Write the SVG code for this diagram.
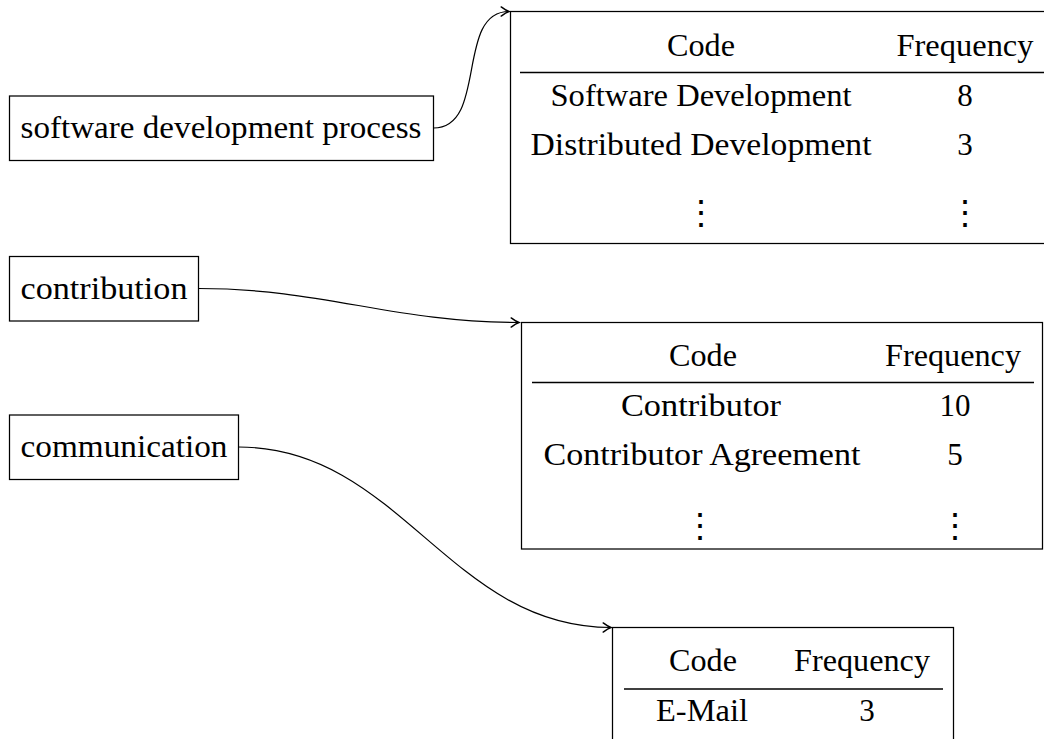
<svg xmlns="http://www.w3.org/2000/svg" width="1044" height="739" viewBox="0 0 1044 739">
<style>
  .box { fill: #fff; stroke: #000; stroke-width: 1.25; }
  .rule { stroke: #000; stroke-width: 1.5; }
  .t { font-family: "Liberation Serif", "DejaVu Serif", serif; font-size: 31px; fill: #000; text-anchor: middle; }
  .dots { font-family: "DejaVu Serif", serif; font-size: 34px; fill: #000; text-anchor: middle; }
  .edge { fill: none; stroke: #000; stroke-width: 1.2; }
</style>
<defs>
  <marker id="arr" markerUnits="userSpaceOnUse" markerWidth="12" markerHeight="12" viewBox="-8 -5 10 10" refX="0" refY="0" orient="auto">
    <path d="M-6.5,-3.8 Q-2.5,-0.8 0,0 Q-2.5,0.8 -6.5,3.8" fill="none" stroke="#000" stroke-width="1.2" stroke-linecap="round"/>
  </marker>
</defs>
<rect width="1044" height="739" fill="#fff"/>

<g id="node-sdp">
  <rect class="box" x="9.5" y="96" width="424" height="64.5"/>
  <text class="t" x="221" y="138" textLength="401" lengthAdjust="spacingAndGlyphs">software development process</text>
</g>
<g id="node-contribution">
  <rect class="box" x="9.5" y="256.5" width="189" height="64.5"/>
  <text class="t" x="104" y="298.5" textLength="167" lengthAdjust="spacingAndGlyphs">contribution</text>
</g>
<g id="node-communication">
  <rect class="box" x="9.5" y="415" width="229" height="64.5"/>
  <text class="t" x="124" y="457" textLength="207" lengthAdjust="spacingAndGlyphs">communication</text>
</g>

<g id="table-1">
  <rect class="box" x="510.5" y="11.5" width="560" height="232"/>
  <text class="t" x="701" y="56" textLength="68" lengthAdjust="spacingAndGlyphs">Code</text>
  <text class="t" x="965" y="56" textLength="137" lengthAdjust="spacingAndGlyphs">Frequency</text>
  <line class="rule" x1="520" y1="72.5" x2="1050" y2="72.5"/>
  <text class="t" x="701" y="106" textLength="301" lengthAdjust="spacingAndGlyphs">Software Development</text>
  <text class="t" x="965" y="106">8</text>
  <text class="t" x="701" y="155" textLength="341" lengthAdjust="spacingAndGlyphs">Distributed Development</text>
  <text class="t" x="965" y="155">3</text>
  <text class="dots" x="701" y="224">⋮</text>
  <text class="dots" x="965" y="224">⋮</text>
</g>

<g id="table-2">
  <rect class="box" x="521.5" y="322.5" width="521" height="226.5"/>
  <text class="t" x="703" y="366" textLength="68" lengthAdjust="spacingAndGlyphs">Code</text>
  <text class="t" x="953" y="366" textLength="136" lengthAdjust="spacingAndGlyphs">Frequency</text>
  <line class="rule" x1="532" y1="382.5" x2="1034" y2="382.5"/>
  <text class="t" x="701" y="416" textLength="160" lengthAdjust="spacingAndGlyphs">Contributor</text>
  <text class="t" x="955" y="416">10</text>
  <text class="t" x="702" y="465" textLength="317" lengthAdjust="spacingAndGlyphs">Contributor Agreement</text>
  <text class="t" x="955" y="465">5</text>
  <text class="dots" x="700" y="537">⋮</text>
  <text class="dots" x="955" y="537">⋮</text>
</g>

<g id="table-3">
  <rect class="box" x="612.5" y="627.5" width="341" height="130"/>
  <text class="t" x="703" y="671" textLength="68" lengthAdjust="spacingAndGlyphs">Code</text>
  <text class="t" x="862" y="671" textLength="136" lengthAdjust="spacingAndGlyphs">Frequency</text>
  <line class="rule" x1="624" y1="689" x2="943" y2="689"/>
  <text class="t" x="702" y="721" textLength="92" lengthAdjust="spacingAndGlyphs">E-Mail</text>
  <text class="t" x="867" y="721">3</text>
</g>

<g id="connectors">
  <path class="edge" d="M433.5,128 C488,128 455,11.5 509,11.5" marker-end="url(#arr)"/>
  <path class="edge" d="M198.5,288.5 C324,288.5 393,322.5 519,322.5" marker-end="url(#arr)"/>
  <path class="edge" d="M238.5,447 C400,447 449,627.5 611,627.5" marker-end="url(#arr)"/>
</g>
</svg>
